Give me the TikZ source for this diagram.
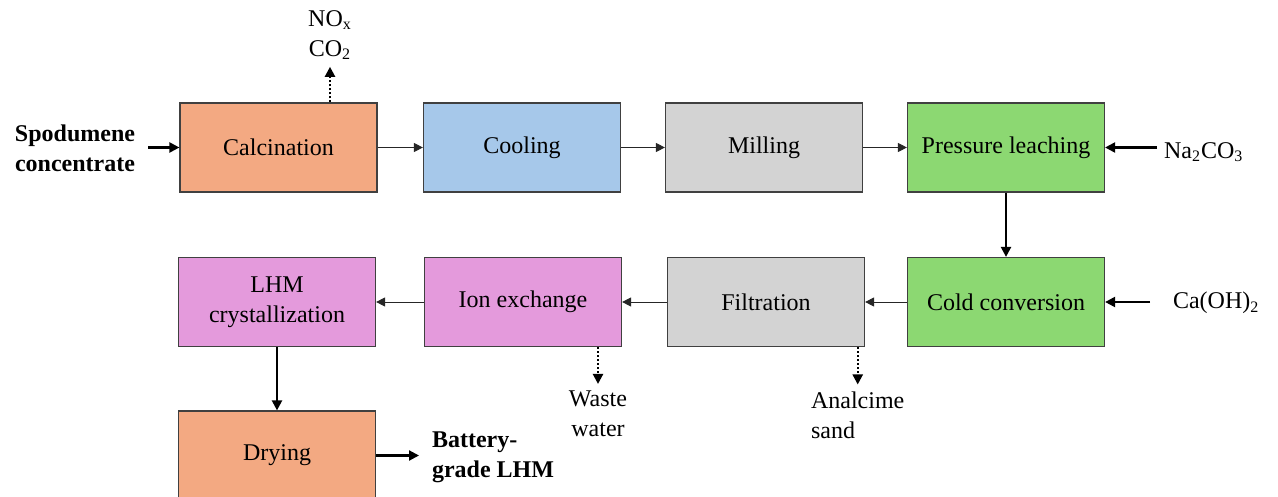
\documentclass[tikz,border=0pt]{standalone}
\usepackage{fontspec}
\setmainfont{Liberation Serif}
\usetikzlibrary{arrows.meta}

\definecolor{calccol}{HTML}{F3A982}
\definecolor{coolcol}{HTML}{A6C8EA}
\definecolor{millcol}{HTML}{D3D3D3}
\definecolor{leachcol}{HTML}{8CD872}
\definecolor{ioncol}{HTML}{E49ADC}

\tikzset{
  unit/.style={draw=black!75, line width=0.6pt, minimum width=98.5pt,
    minimum height=44.5pt, align=center, inner sep=2pt},
  flow/.style={-{Triangle[length=4.5pt,width=4.5pt]}, line width=0.5pt, black!85},
  feed/.style={-{Triangle[length=5pt,width=5pt]}, line width=1.1pt},
  vent/.style={-{Triangle[length=5pt,width=5pt]}, line width=1.1pt,
    dash pattern=on 1pt off 1pt},
}

\begin{document}
\begin{tikzpicture}[x=0.5pt, y=-0.5pt, font=\fontsize{12}{15}\selectfont]
  \clip (0,0) rectangle (1278,497);

  % process units
  \node[unit, fill=calccol] (calc) at (278.5,147.5) {Calcination};
  \node[unit, fill=coolcol] (cool) at (522,147.5) {Cooling};
  \node[unit, fill=millcol] (mill) at (764,147.5) {Milling};
  \node[unit, fill=leachcol] (press) at (1006,147.5) {Pressure leaching};
  \node[unit, fill=leachcol] (cold) at (1006,302) {Cold conversion};
  \node[unit, fill=millcol] (filt) at (766,302) {Filtration};
  \node[unit, fill=ioncol] (ion) at (523,302) {Ion exchange};
  \node[unit, fill=ioncol] (lhm) at (277,302) {LHM\\crystallization};
  \node[unit, fill=calccol] (dry) at (277,455.5) {Drying};

  % streams in and out
  \node[font=\fontsize{12}{15}\selectfont\bfseries, align=center] (spod) at (75,148) {Spodumene\\concentrate};
  \node[align=center] (gas) at (330,35) {NO\textsubscript{x}\\CO\textsubscript{2}};
  \node[anchor=west] (naco) at (1157,152) {Na\textsubscript{2}CO\textsubscript{3}};
  \node[anchor=west] (caoh) at (1166,303) {Ca(OH)\textsubscript{2}};
  \node[align=center] (waste) at (598,414) {Waste\\water};
  \node[anchor=west, align=left] (sand) at (804,415) {Analcime\\sand};
  \node[anchor=west, align=left, font=\fontsize{12}{15}\selectfont\bfseries] (batt) at (425,457) {Battery-\\grade LHM};

  % main line
  \draw[flow] (calc) -- (cool);
  \draw[flow] (cool) -- (mill);
  \draw[flow] (mill) -- (press);
  \draw[feed] (press) -- (cold);
  \draw[flow] (cold) -- (filt);
  \draw[flow] (filt) -- (ion);
  \draw[flow] (ion) -- (lhm);
  \draw[feed] (lhm) -- (dry);

  \draw[feed, shorten <=3pt] (spod.east |- calc) -- (calc.west);
  \draw[feed] (naco.west |- press) -- (press.east);
  \draw[feed] ([xshift=-8pt]caoh.west |- cold) -- (cold.east);
  \draw[feed, shorten >=3pt] (dry.east) -- (batt.west |- dry);

  \draw[vent] (calc.north -| gas) -- (gas.south);
  \draw[vent] (ion.south -| waste) -- (waste.north);
  \draw[vent] (filt.south -| sand.north) -- (sand.north);

\end{tikzpicture}
\end{document}
